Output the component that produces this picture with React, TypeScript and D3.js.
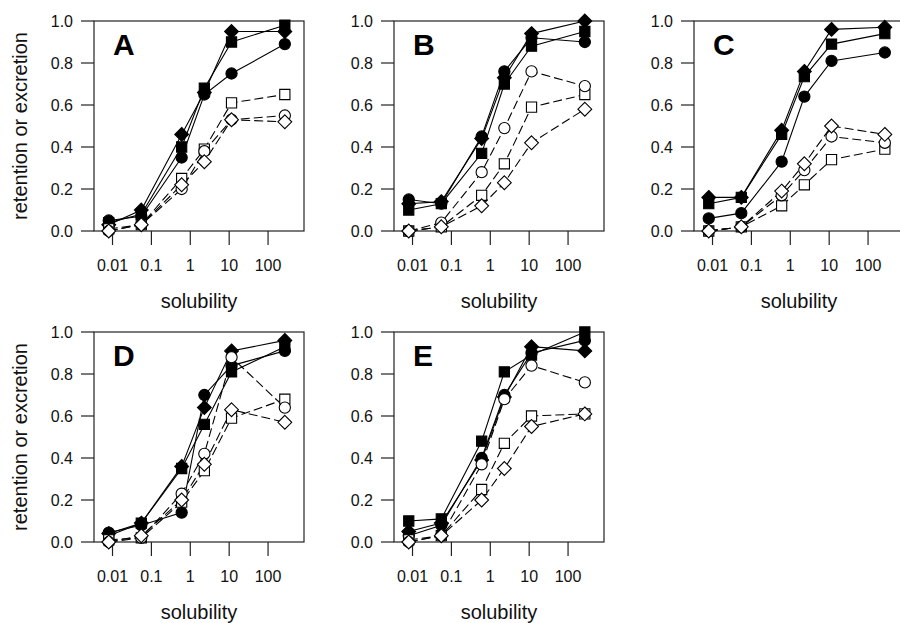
import React, { useEffect, useRef } from "react";
import * as d3 from "d3";

const solubility = [0.008, 0.055, 0.6, 2.3, 11.5, 270];
const xTicks = [0.01, 0.1, 1, 10, 100];
const xTickLabels = ["0.01", "0.1", "1", "10", "100"];
const yTicks = [0, 0.2, 0.4, 0.6, 0.8, 1.0];
const panelLabels = ["A", "B", "C", "D", "E"];

// one row per panel (A..E), one value per solubility
const filledDiamond = [
  [0.03, 0.1, 0.46, 0.66, 0.95, 0.95],
  [0.13, 0.14, 0.44, 0.73, 0.94, 1.0],
  [0.16, 0.16, 0.48, 0.76, 0.96, 0.97],
  [0.04, 0.09, 0.36, 0.64, 0.91, 0.96],
  [0.05, 0.09, 0.39, 0.69, 0.93, 0.91],
];
const filledSquare = [
  [0.04, 0.08, 0.4, 0.68, 0.9, 0.98],
  [0.1, 0.13, 0.37, 0.7, 0.88, 0.95],
  [0.13, 0.16, 0.46, 0.735, 0.89, 0.94],
  [0.03, 0.09, 0.35, 0.56, 0.81, 0.93],
  [0.1, 0.11, 0.48, 0.81, 0.89, 1.0],
];
const filledCircle = [
  [0.05, 0.07, 0.35, 0.65, 0.75, 0.89],
  [0.15, 0.13, 0.45, 0.76, 0.92, 0.9],
  [0.06, 0.085, 0.33, 0.64, 0.81, 0.85],
  [0.045, 0.08, 0.14, 0.7, 0.84, 0.91],
  [0.03, 0.08, 0.4, 0.7, 0.9, 0.96],
];
const openSquare = [
  [0.01, 0.03, 0.25, 0.39, 0.61, 0.65],
  [0.0, 0.02, 0.17, 0.32, 0.59, 0.65],
  [0.0, 0.02, 0.12, 0.22, 0.34, 0.39],
  [0.01, 0.02, 0.19, 0.34, 0.59, 0.68],
  [0.01, 0.03, 0.25, 0.47, 0.6, 0.61],
];
const openCircle = [
  [0.0, 0.03, 0.2, 0.38, 0.53, 0.55],
  [0.0, 0.04, 0.28, 0.49, 0.76, 0.69],
  [0.0, 0.02, 0.17, 0.29, 0.45, 0.42],
  [0.0, 0.02, 0.23, 0.42, 0.88, 0.64],
  [0.0, 0.03, 0.37, 0.68, 0.84, 0.76],
];
const openDiamond = [
  [0.0, 0.03, 0.22, 0.33, 0.53, 0.52],
  [0.0, 0.02, 0.12, 0.23, 0.42, 0.58],
  [0.0, 0.02, 0.19, 0.32, 0.5, 0.46],
  [0.0, 0.03, 0.2, 0.37, 0.63, 0.57],
  [0.0, 0.03, 0.2, 0.35, 0.55, 0.61],
];

const series = [
  { values: filledCircle, shape: "circle", filled: true },
  { values: filledSquare, shape: "square", filled: true },
  { values: filledDiamond, shape: "diamond", filled: true },
  { values: openSquare, shape: "square", filled: false },
  { values: openCircle, shape: "circle", filled: false },
  { values: openDiamond, shape: "diamond", filled: false },
];

const FONT = "'Liberation Sans', Arial, sans-serif";
const W = 900;
const H = 623;
const plotSize = 210;
const colLeft = [94, 394, 694];
const rowTop = [21, 332];

const markerPath = (shape, cx, cy) => {
  if (shape === "circle") {
    const p = d3.path();
    p.arc(cx, cy, 5.6, 0, Math.PI * 2);
    return p.toString();
  }
  if (shape === "square") {
    const s = 5.1;
    return `M${cx - s},${cy - s}H${cx + s}V${cy + s}H${cx - s}Z`;
  }
  const d = 6.9;
  return `M${cx},${cy - d}L${cx + d},${cy}L${cx},${cy + d}L${cx - d},${cy}Z`;
};

export default function App() {
  const ref = useRef(null);

  useEffect(() => {
    const svg = d3.select(ref.current);
    svg.selectAll("*").remove();

    panelLabels.forEach((label, pi) => {
      const col = pi % 3;
      const row = Math.floor(pi / 3);
      const left = colLeft[col];
      const top = rowTop[row];

      const x = d3
        .scaleLog()
        .domain([0.00334, 840])
        .range([left, left + plotSize]);
      const y = d3
        .scaleLinear()
        .domain([0, 1])
        .range([top + plotSize, top]);

      const g = svg.append("g");

      // frame
      g.append("rect")
        .attr("x", left)
        .attr("y", top)
        .attr("width", plotSize)
        .attr("height", plotSize)
        .attr("fill", "none")
        .attr("stroke", "#222")
        .attr("stroke-width", 1.2);

      // y axis
      yTicks.forEach((t) => {
        g.append("line")
          .attr("x1", left - 13)
          .attr("x2", left)
          .attr("y1", y(t))
          .attr("y2", y(t))
          .attr("stroke", "#222")
          .attr("stroke-width", 1.2);
        g.append("text")
          .attr("x", left - 21)
          .attr("y", y(t))
          .attr("dy", "0.36em")
          .attr("text-anchor", "end")
          .attr("font-family", FONT)
          .attr("font-size", 16)
          .attr("fill", "#111")
          .text(d3.format(".1f")(t));
      });

      // x axis
      xTicks.forEach((t, i) => {
        g.append("line")
          .attr("x1", x(t))
          .attr("x2", x(t))
          .attr("y1", top + plotSize)
          .attr("y2", top + plotSize + 14)
          .attr("stroke", "#222")
          .attr("stroke-width", 1.2);
        g.append("text")
          .attr("x", x(t))
          .attr("y", top + plotSize + 40)
          .attr("text-anchor", "middle")
          .attr("font-family", FONT)
          .attr("font-size", 16)
          .attr("fill", "#111")
          .text(xTickLabels[i]);
      });

      g.append("text")
        .attr("x", left + plotSize / 2)
        .attr("y", top + plotSize + 77)
        .attr("text-anchor", "middle")
        .attr("font-family", FONT)
        .attr("font-size", 20)
        .attr("fill", "#111")
        .text("solubility");

      if (col === 0) {
        g.append("text")
          .attr(
            "transform",
            `translate(27,${top + plotSize / 2}) rotate(-90)`
          )
          .attr("text-anchor", "middle")
          .attr("font-family", FONT)
          .attr("font-size", 20)
          .attr("fill", "#111")
          .text("retention or excretion");
      }

      g.append("text")
        .attr("x", left + 19)
        .attr("y", top + 34)
        .attr("font-family", FONT)
        .attr("font-size", 30)
        .attr("font-weight", "bold")
        .attr("fill", "#000")
        .text(label);

      const line = d3
        .line()
        .x((d, i) => x(solubility[i]))
        .y((d) => y(d));

      series.forEach((s) => {
        g.append("path")
          .datum(s.values[pi])
          .attr("fill", "none")
          .attr("stroke", "#000")
          .attr("stroke-width", 1.1)
          .attr("stroke-dasharray", s.filled ? null : "9,4")
          .attr("d", line);
      });

      series.forEach((s) => {
        g.append("g")
          .selectAll("path")
          .data(s.values[pi])
          .join("path")
          .attr("d", (d, i) => markerPath(s.shape, x(solubility[i]), y(d)))
          .attr("fill", s.filled ? "#000" : "#fff")
          .attr("stroke", "#000")
          .attr("stroke-width", 1.1);
      });
    });
  }, []);

  return (
    <svg
      ref={ref}
      width={W}
      height={H}
      style={{ position: "absolute", left: 0, top: 0, background: "#fff" }}
    ></svg>
  );
}
